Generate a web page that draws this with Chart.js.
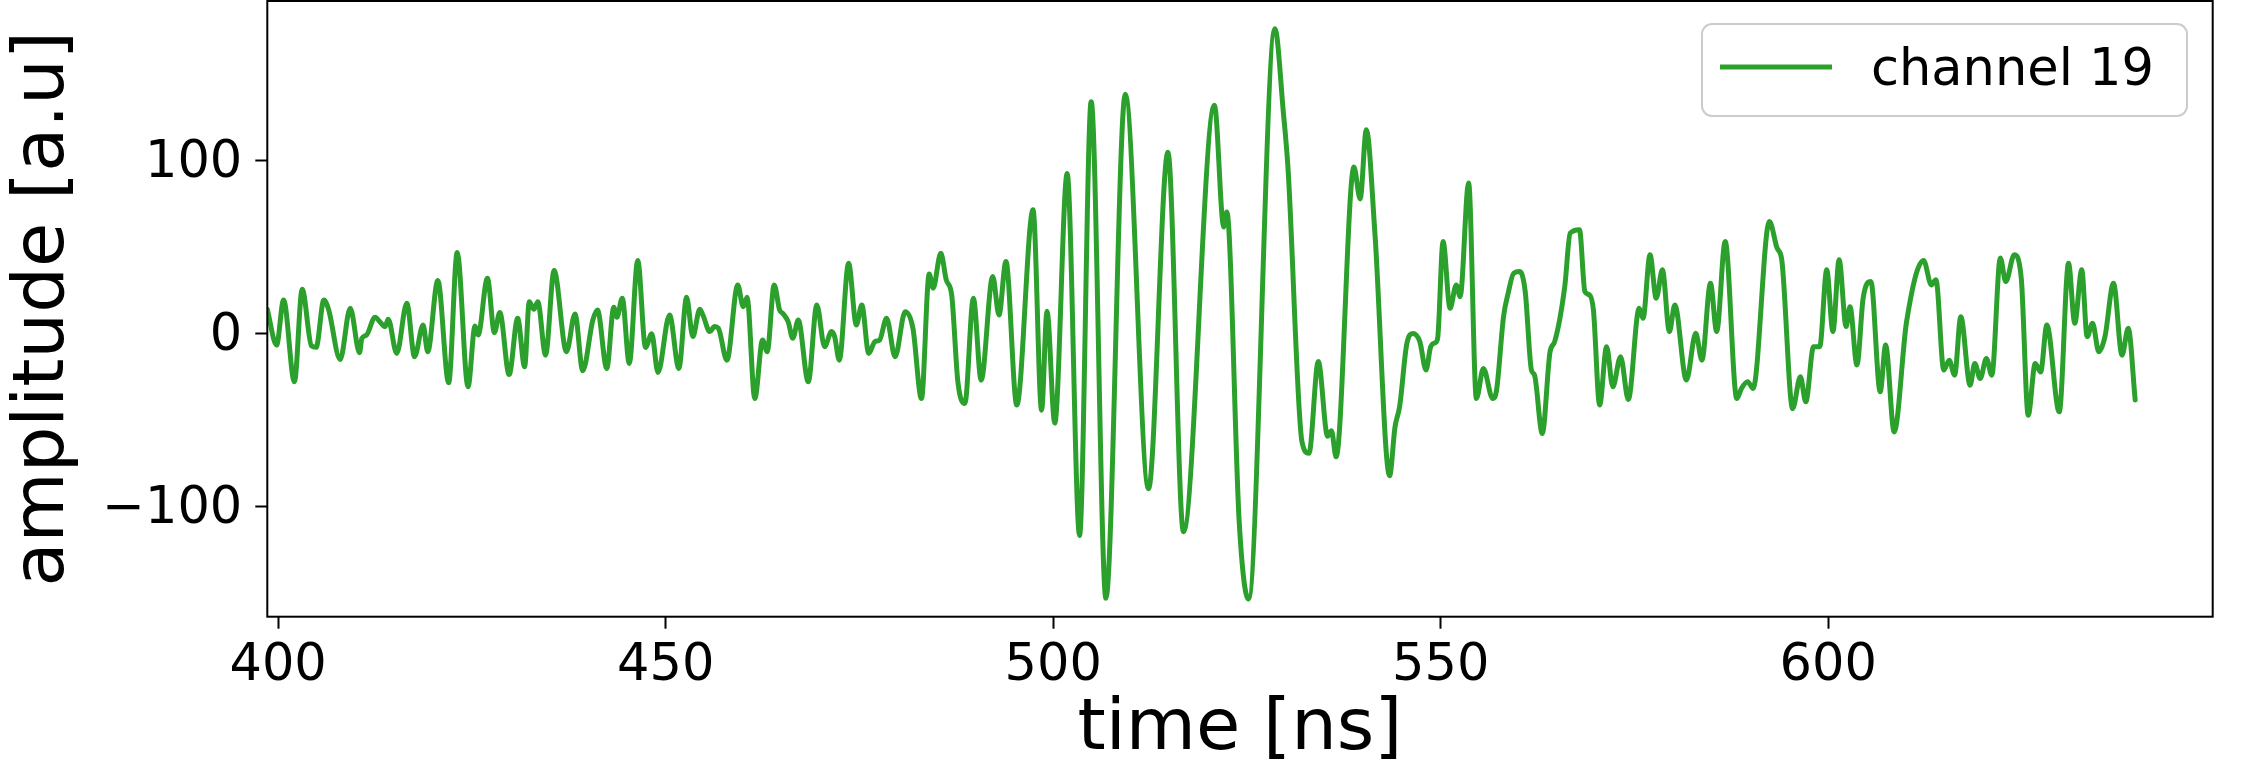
<!DOCTYPE html>
<html>
<head>
<meta charset="utf-8">
<script src="https://cdn.jsdelivr.net/npm/chart.js@4.4.1/dist/chart.umd.min.js"></script>
<style>
  body { margin: 0; background: #fff; }
  #wrap { width: 2255px; height: 765px; }
</style>
</head>
<body>
<div id="wrap"><canvas id="chart1" width="2255" height="765"></canvas></div>
<script>
// time axis (ns) and amplitude (a.u)
const timeNs = [
  398.6, 399.8, 400.7, 402.1, 403.1, 404.3, 404.9, 405.9, 406.5, 408.0,
  409.3, 410.5, 410.8, 411.4, 412.5, 413.1, 413.8, 414.2, 415.3, 416.6,
  417.6, 418.7, 419.3, 420.6, 422.0, 423.1, 424.5, 425.4, 425.8, 427.0,
  427.9, 428.6, 429.8, 430.9, 431.8, 432.4, 433.0, 433.5, 434.5, 435.6,
  437.2, 438.3, 439.3, 440.6, 441.2, 442.4, 443.3, 443.7, 444.4, 445.3,
  446.4, 447.4, 448.2, 449.0, 450.5, 451.7, 452.7, 453.5, 454.4, 454.8,
  455.7, 456.3, 456.8, 457.9, 459.3, 460.0, 460.5, 461.5, 462.5, 463.1,
  464.0, 464.7, 465.1, 465.8, 466.4, 467.1, 468.4, 469.5, 470.5, 471.4,
  471.8, 472.4, 473.6, 474.6, 475.3, 476.2, 477.0, 477.6, 478.5, 479.6,
  480.9, 481.9, 483.0, 484.0, 484.5, 485.5, 486.2, 486.9, 487.7, 488.6,
  489.7, 490.7, 492.2, 493.0, 493.9, 495.3, 497.4, 498.5, 499.2, 500.2,
  501.8, 503.4, 504.9, 506.8, 509.3, 512.3, 514.8, 516.8, 520.8, 522.0,
  522.4, 524.0, 525.2, 528.6, 529.7, 530.3, 532.1, 533.0, 534.2, 535.4,
  535.9, 536.5, 538.8, 539.6, 540.4, 541.5, 543.4, 544.1, 544.7, 545.6,
  546.4, 547.3, 548.1, 548.7, 549.3, 549.6, 550.3, 551.2, 552.0, 552.5,
  553.6, 554.6, 555.5, 556.7, 557.2, 558.1, 558.7, 559.4, 560.2, 560.9,
  561.7, 562.1, 563.1, 564.1, 564.7, 566.0, 566.7, 567.9, 568.6, 569.2,
  569.7, 570.5, 571.4, 572.2, 573.2, 574.2, 575.6, 576.1, 577.0, 577.8,
  578.6, 579.5, 580.2, 581.7, 582.9, 583.7, 584.8, 585.6, 586.7, 588.2,
  588.8, 589.6, 590.3, 592.4, 593.4, 594.0, 595.4, 596.4, 597.1, 598.1,
  598.9, 599.8, 600.6, 601.4, 602.3, 602.8, 603.7, 604.5, 605.5, 606.7,
  607.4, 608.5, 610.1, 612.3, 613.3, 613.9, 614.9, 615.6, 616.3, 617.1,
  618.3, 618.9, 619.6, 620.4, 621.1, 622.2, 622.9, 624.0, 624.9, 625.8,
  626.7, 627.4, 628.2, 629.8, 631.0, 631.8, 632.7, 633.4, 634.1, 634.9,
  635.7, 636.8, 637.9, 638.7, 639.6
];
const amplitude = [
  14, -6.7, 19.4, -27.9, 25.6, -7.2, -8.0, 19.4, 14.0, -15.0,
  14.6, -11.1, -2.8, -0.9, 9.4, 6.9, 4.0, 8.2, -11.5, 17.5,
  -13.4, 4.9, -10.5, 30.6, -28.5, 46.8, -30.8, 4.3, -0.9, 31.9,
  0.5, 12.1, -23.7, 8.8, -19.2, 18.4, 14.0, 18.4, -12.5, 36.4,
  -10.5, 11.3, -21.5, 7.8, 13.6, -20.2, 15.2, 9.4, 20.4, -17.3,
  42.2, -8.1, -0.2, -22.5, 10.7, -20.2, 20.9, -1.8, 14.0, 10.7,
  1.1, 4.0, 3.0, -15.4, 28.1, 15.5, 20.9, -37.6, -3.8, -10.5,
  28.1, 13.6, 11.7, 6.9, -2.8, 7.8, -27.9, 16.5, -7.6, 1.1,
  -1.8, -15.4, 40.6, 4.9, 16.5, -11.5, -4.7, -3.8, 8.8, -13.4,
  12.6, 3.0, -37.6, 34.4, 26.2, 46.4, 31.0, 22.3, -27.9, -40.5,
  20.4, -27.0, 32.9, 10.7, 41.6, -41.4, 71.5, -44.3, 12.9, -51.8,
  92.5, -116.7, 134.0, -153.0, 138.3, -89.7, 104.8, -114.6, 131.9, 61.6,
  70.3, -109.2, -153.5, 176.2, 127.5, 95.1, -62.7, -69.2, -16.2, -59.4,
  -56.2, -71.3, 96.2, 77.8, 117.8, 58.4, -82.2, -54.0, -42.1, -6.5,
  0.0, -4.7, -21.1, -7.6, -5.3, -2.8, 53.2, 14.6, 28.1, 21.3,
  87.0, -37.6, -20.2, -37.6, -32.8, 9.7, 23.3, 34.8, 35.8, 24.2,
  -21.1, -24.1, -57.8, -10.6, -4.7, 27.1, 58.0, 60.0, 24.2, 22.3,
  13.6, -41.4, -7.6, -30.8, -13.4, -38.1, 14.6, 8.8, 45.5, 20.4,
  36.8, 1.1, 16.5, -26.9, 0.1, -15.4, 29.0, 1.1, 53.2, -37.6,
  -31.8, -27.9, -31.8, 64.8, 49.3, 42.6, -43.4, -25.0, -39.5, -7.6,
  -7.6, 36.8, 1.1, 42.6, 4.0, 15.5, -18.2, 20.4, 30.0, -33.7,
  -6.7, -56.9, 6.8, 42.2, 28.1, 31.0, -21.1, -15.4, -24.1, 9.7,
  -29.9, -17.3, -26.0, -14.4, -24.1, 43.6, 30.0, 45.5, 31.9, -47.2,
  -17.3, -22.2, 4.9, -45.3, 40.6, 5.9, 36.8, -1.8, 5.9, -10.5,
  -1.8, 29.0, -12.5, 3.0, -38.5
];
const xTicks = [400, 450, 500, 550, 600];
const yTicks = [-100, 0, 100];

const green = '#2ca02c';
const font = 'DejaVu Sans';

// box round the plot + matplotlib style legend
const framePlugin = {
    id: 'frame',
    afterDraw(chart) {
        const {ctx, chartArea: a} = chart;
        ctx.save();
        ctx.strokeStyle = '#000';
        ctx.lineWidth = 2;
        ctx.strokeRect(a.left, a.top, a.right - a.left, a.bottom - a.top);

        const ds = chart.data.datasets[0];
        const bx = 1702, by = 24, bw = 485, bh = 92, r = 10;
        ctx.beginPath();
        ctx.roundRect(bx, by, bw, bh, r);
        ctx.fillStyle = 'rgba(255,255,255,0.8)';
        ctx.fill();
        ctx.strokeStyle = '#cccccc';
        ctx.lineWidth = 2;
        ctx.stroke();

        ctx.beginPath();
        ctx.moveTo(1720, 67);
        ctx.lineTo(1832, 67);
        ctx.strokeStyle = ds.borderColor;
        ctx.lineWidth = ds.borderWidth;
        ctx.stroke();

        ctx.fillStyle = '#000';
        ctx.font = '51px "' + font + '"';
        ctx.textBaseline = 'alphabetic';
        ctx.textAlign = 'left';
        ctx.fillText(ds.label, 1871, 85);
        ctx.restore();
    }
};

const data = {
    datasets: [{
        label: 'channel 19',
        data: timeNs.map((t, i) => ({x: t, y: amplitude[i]})),
        borderColor: green,
        borderWidth: 5,
        borderJoinStyle: 'round',
        borderCapStyle: 'round',
        cubicInterpolationMode: 'monotone',
        pointRadius: 0,
        fill: false
    }]
};

const config = {
    type: 'line',
    data: data,
    plugins: [framePlugin],
    options: {
        responsive: false,
        animation: false,
        devicePixelRatio: 1,
        layout: {
            padding: {left: 0, top: 1, right: 42.3, bottom: 0}
        },
        scales: {
            x: {
                type: 'linear',
                min: 398.6,
                max: 649.6,
                afterBuildTicks: s => { s.ticks = xTicks.map(v => ({value: v})); },
                afterFit: s => {
                    s.height = 148.3;
                    s.paddingLeft = 0;
                    s.paddingRight = 0;
                },
                ticks: {
                    color: '#000',
                    font: {family: font, size: 51},
                    padding: 7,
                    maxRotation: 0,
                    autoSkip: false
                },
                grid: {
                    drawOnChartArea: false,
                    tickLength: 12,
                    tickWidth: 2,
                    tickColor: '#000'
                },
                border: {display: false},
                title: {
                    display: true,
                    text: 'time [ns]',
                    color: '#000',
                    font: {family: font, size: 72, lineHeight: 0.9},
                    padding: {top: 0, bottom: 2}
                }
            },
            y: {
                min: -163.7,
                max: 192.2,
                afterBuildTicks: s => { s.ticks = yTicks.map(v => ({value: v})); },
                afterFit: s => {
                    s.width = 267.3;
                    s.paddingTop = 0;
                    s.paddingBottom = 0;
                },
                ticks: {
                    color: '#000',
                    font: {family: font, size: 51},
                    padding: 13,
                    labelOffset: 3,
                    callback: value => String(value).replace('-', '\u2212')
                },
                grid: {
                    drawOnChartArea: false,
                    tickLength: 12,
                    tickWidth: 2,
                    tickColor: '#000'
                },
                border: {display: false},
                title: {
                    display: true,
                    text: 'amplitude [a.u]',
                    color: '#000',
                    font: {family: font, size: 72, lineHeight: 1.2},
                    padding: {top: 1.3, bottom: 0}
                }
            }
        },
        plugins: {
            legend: {display: false},
            tooltip: {enabled: false}
        }
    }
};

new Chart(document.getElementById('chart1'), config);
</script>
</body>
</html>
